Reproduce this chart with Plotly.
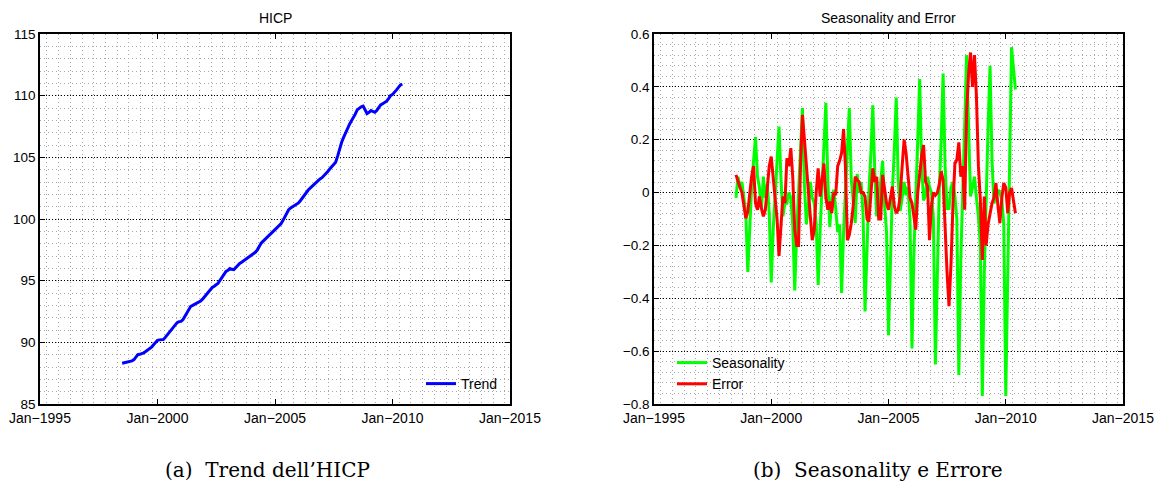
import plotly.graph_objects as go
import pandas as pd

# monthly observations Jul 1998 - Jun 2010
months = pd.date_range("1998-07-01", periods=144, freq="MS")

trend = [
    88.30, 88.33, 88.37, 88.42, 88.46, 88.50,
    88.60, 88.85, 89.00, 89.03, 89.08, 89.15, 89.25, 89.35, 89.45, 89.60, 89.80, 90.00,
    90.16, 90.20, 90.20, 90.22, 90.40, 90.60, 90.80, 91.00, 91.20, 91.40, 91.60, 91.68,
    91.70, 91.85, 92.10, 92.40, 92.75, 92.92, 93.00, 93.08, 93.15, 93.24, 93.35, 93.50,
    93.70, 93.95, 94.15, 94.33, 94.45, 94.55, 94.65, 94.80, 95.05, 95.30, 95.55, 95.75,
    95.85, 95.98, 95.92, 95.90, 96.05, 96.25, 96.40, 96.50, 96.62, 96.75, 96.85, 96.95,
    97.05, 97.18, 97.30, 97.50, 97.80, 98.05, 98.20, 98.35, 98.50, 98.65, 98.80, 98.92,
    99.10, 99.30, 99.45, 99.60, 99.85, 100.20, 100.50, 100.75, 100.90, 101.00, 101.10, 101.20,
    101.30, 101.50, 101.70, 101.95, 102.20, 102.35, 102.50, 102.65, 102.80, 103.00, 103.15, 103.25,
    103.35, 103.50, 103.70, 103.85, 104.05, 104.25, 104.45, 104.60, 105.10, 105.70, 106.20, 106.60,
    107.00, 107.35, 107.65, 107.95, 108.20, 108.50, 108.85, 109.00, 109.10, 109.15, 108.85, 108.55,
    108.65, 108.80, 108.72, 108.65, 108.80, 109.05, 109.25, 109.35, 109.45, 109.55, 109.75, 110.00,
    110.10, 110.25, 110.45, 110.65, 110.85, 110.95,
]

seasonality = [
    -0.02, 0.06, 0.02, 0.04, -0.02, -0.08,
    -0.30, -0.12, 0.02, 0.12, 0.21, 0.06, 0.02, -0.06, 0.06, -0.02, 0.03, -0.08,
    -0.34, -0.14, 0.00, 0.14, 0.25, 0.05, -0.09, -0.04, -0.04, 0.00, -0.02, -0.12,
    -0.37, -0.15, 0.00, 0.15, 0.32, 0.03, -0.12, -0.05, 0.04, -0.02, -0.04, -0.12,
    -0.35, -0.14, 0.02, 0.16, 0.34, 0.04, -0.13, -0.02, 0.01, -0.06, -0.15, -0.12,
    -0.38, -0.15, 0.02, 0.16, 0.32, 0.05, -0.05, -0.115, 0.07, 0.00, 0.04, -0.08,
    -0.45, -0.18, 0.00, 0.15, 0.33, 0.08, -0.09, -0.04, 0.05, 0.12, -0.05, -0.15,
    -0.54, -0.20, 0.00, 0.16, 0.36, 0.05, -0.07, -0.02, 0.04, -0.01, 0.02, -0.10,
    -0.59, -0.22, 0.02, 0.20, 0.43, 0.10, -0.03, -0.01, 0.06, 0.02, 0.00, -0.10,
    -0.65, -0.25, 0.00, 0.20, 0.45, 0.10, -0.06, -0.06, 0.02, 0.04, -0.015, -0.10,
    -0.69, -0.25, 0.05, 0.25, 0.52, 0.20, -0.015, 0.02, 0.06, -0.02, -0.09, -0.20,
    -0.77, -0.30, 0.02, 0.25, 0.48, 0.12, -0.04, -0.02, 0.01, 0.00, -0.028, -0.12,
    -0.77, -0.30, 0.10, 0.55, 0.47, 0.39,
]

error = [
    0.067, 0.04, 0.02, 0.0, -0.05, -0.097,
    -0.072, 0.0, 0.06, 0.1, -0.04, -0.065, -0.015, -0.06, -0.09, -0.065, 0.02, 0.1,
    0.136, 0.05, 0.0, -0.1, -0.24, -0.1, -0.015, -0.04, 0.13, 0.1, 0.168, 0.06,
    -0.14, -0.2, -0.2, 0.1, 0.294, 0.2, 0.1, -0.02, -0.09, -0.18, -0.14, 0.0,
    0.092, -0.015, 0.05, 0.11, -0.02, -0.065, -0.034, -0.078, 0.0, -0.01, 0.1, 0.12,
    0.15, 0.24, 0.1, -0.18, -0.16, -0.116, -0.05, 0.06, 0.048, 0.04, 0.0, 0.0,
    -0.015, -0.1, -0.11, 0.0, 0.092, 0.04, 0.06, -0.1, -0.1, 0.067, 0.02, -0.04,
    -0.065, -0.015, 0.023, -0.05, -0.078, -0.065, -0.015, 0.1, 0.2, 0.15, 0.05, -0.02,
    -0.04, -0.1, -0.14, 0.0, 0.073, 0.14, 0.18, 0.04, 0.023, -0.18, -0.05, 0.0,
    -0.01, 0.0, 0.03, 0.08, 0.048, -0.14, -0.3, -0.43, -0.27, -0.05, 0.11, 0.124,
    0.19, 0.06, 0.1, -0.065, 0.3, 0.45, 0.53, 0.4, 0.52, 0.364, 0.1, -0.028,
    -0.255, -0.015, -0.2, -0.12, -0.078, -0.04, -0.02, 0.036, -0.05, -0.116, -0.02, 0.036,
    0.02, -0.078, 0.0, 0.017, -0.03, -0.078,
]

x_tick_dates = ["1995-01-01", "2000-01-01", "2005-01-01", "2010-01-01", "2015-01-01"]
x_tick_text = ["Jan\u22121995", "Jan\u22122000", "Jan\u22122005", "Jan\u22122010", "Jan\u22122015"]
left_y_ticks = [85, 90, 95, 100, 105, 110, 115]
right_y_ticks = [-0.8, -0.6, -0.4, -0.2, 0, 0.2, 0.4, 0.6]
right_y_text = ["\u22120.8", "\u22120.6", "\u22120.4", "\u22120.2", "0", "0.2", "0.4", "0.6"]

W, H = 1155, 490
FONT = "Liberation Sans, Arial, sans-serif"
FS = 14

fig = go.Figure()
fig.add_trace(go.Scatter(x=months, y=trend, mode="lines", name="Trend",
                         line=dict(color="#0000ff", width=3),
                         xaxis="x", yaxis="y", legend="legend"))
fig.add_trace(go.Scatter(x=months, y=seasonality, mode="lines", name="Seasonality",
                         line=dict(color="#00ff00", width=3),
                         xaxis="x2", yaxis="y2", legend="legend2"))
fig.add_trace(go.Scatter(x=months, y=error, mode="lines", name="Error",
                         line=dict(color="#ff0000", width=3),
                         xaxis="x2", yaxis="y2", legend="legend2"))

def px_x(p):
    return p / W

def px_y(p):
    return 1 - p / H

xdom1 = [px_x(40), px_x(510)]
xdom2 = [px_x(654), px_x(1123)]
ydom = [px_y(404), px_y(34)]

common_x = dict(
    type="date", range=["1995-01-01", "2015-01-01"], automargin=False,
    tickmode="array", tickvals=x_tick_dates, ticktext=x_tick_text,
    ticks="inside", ticklen=5, tickcolor="black", tickwidth=1,
    showline=True, linecolor="black", linewidth=1.5, mirror="ticks",
    showgrid=False, zeroline=False,
    tickfont=dict(family=FONT, size=FS, color="black"),
    minor=dict(tickmode="linear", tick0="1995-04-15", dtick="M6", showgrid=True,
               gridcolor="#a8a8a8", griddash="1px,3px", gridwidth=1, ticks=""),
)
common_y = dict(
    automargin=False,
    ticks="inside", ticklen=5, tickcolor="black", tickwidth=1,
    showline=True, linecolor="black", linewidth=1.5, mirror="ticks",
    showgrid=True, gridcolor="#000000", griddash="1px,2px", gridwidth=1,
    zeroline=False,
    tickfont=dict(family=FONT, size=13.5, color="black"),
)

fig.update_layout(
    width=W, height=H,
    margin=dict(l=0, r=0, t=0, b=0, autoexpand=False),
    paper_bgcolor="white", plot_bgcolor="white",
    xaxis=dict(domain=xdom1, anchor="y", **common_x),
    yaxis=dict(domain=ydom, anchor="x", range=[85, 115], tickmode="array",
               tickvals=left_y_ticks, ticktext=[str(v) for v in left_y_ticks],
               minor=dict(tickmode="linear", tick0=85, dtick=1, showgrid=True,
                          gridcolor="#a8a8a8", griddash="1px,3px", gridwidth=1, ticks=""),
               **common_y),
    xaxis2=dict(domain=xdom2, anchor="y2", **common_x),
    yaxis2=dict(domain=ydom, anchor="x2", range=[-0.8, 0.6], tickmode="array",
                tickvals=right_y_ticks, ticktext=right_y_text,
                minor=dict(tickmode="linear", tick0=-0.8, dtick=0.04, showgrid=True,
                           gridcolor="#a8a8a8", griddash="1px,3px", gridwidth=1, ticks=""),
                **common_y),
    legend=dict(x=px_x(503), y=px_y(400), xanchor="right", yanchor="bottom",
                bgcolor="rgba(0,0,0,0)", borderwidth=0,
                font=dict(family=FONT, size=FS, color="black"),
                itemwidth=30, tracegroupgap=0),
    legend2=dict(x=px_x(672), y=px_y(400), xanchor="left", yanchor="bottom",
                 bgcolor="rgba(0,0,0,0)", borderwidth=0,
                 font=dict(family=FONT, size=FS, color="black"),
                 itemwidth=30, tracegroupgap=0),
    showlegend=True,
    annotations=[
        dict(text="HICP", x=px_x(275), y=px_y(18), xref="paper", yref="paper",
             xanchor="center", yanchor="middle",
             showarrow=False, font=dict(family=FONT, size=FS, color="black")),
        dict(text="Seasonality and Error", x=px_x(888), y=px_y(18), xref="paper", yref="paper",
             xanchor="center", yanchor="middle",
             showarrow=False, font=dict(family=FONT, size=FS, color="black")),
        dict(text="(a)\u00a0\u00a0Trend dell\u2019HICP", x=px_x(267), y=px_y(470),
             xref="paper", yref="paper", xanchor="center", yanchor="middle", showarrow=False,
             font=dict(family="DejaVu Serif, serif", size=20, color="black")),
        dict(text="(b)\u00a0\u00a0Seasonality e Errore", x=px_x(878), y=px_y(470),
             xref="paper", yref="paper", xanchor="center", yanchor="middle", showarrow=False,
             font=dict(family="DejaVu Serif, serif", size=20, color="black")),
    ],
)

fig.write_html("out.html")
